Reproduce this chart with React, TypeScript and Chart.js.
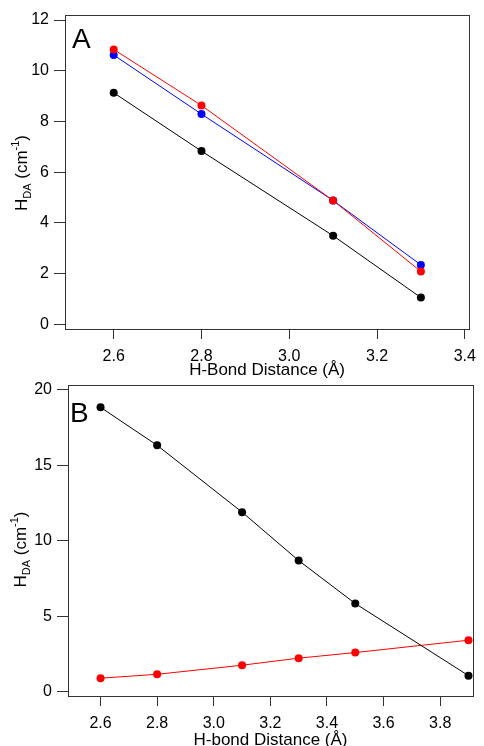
import React, { useEffect, useRef } from "react";
import { Chart, registerables } from "chart.js";

Chart.register(...registerables);

// Panel A data
const xA = [2.6, 2.8, 3.1, 3.3];
const blackA = [9.13, 6.83, 3.49, 1.05];
const blueA = [10.62, 8.29, 4.88, 2.34];
const redA = [10.84, 8.63, 4.88, 2.08];
const xTicksA = [2.6, 2.8, 3.0, 3.2, 3.4];
const yTicksA = [0, 2, 4, 6, 8, 10, 12];

// Panel B data
const xB = [2.6, 2.8, 3.1, 3.3, 3.5, 3.9];
const blackB = [18.85, 16.33, 11.9, 8.69, 5.84, 1.06];
const redB = [0.89, 1.15, 1.75, 2.22, 2.59, 3.41];
const xTicksB = [2.6, 2.8, 3.0, 3.2, 3.4, 3.6, 3.8];
const yTicksB = [0, 5, 10, 15, 20];

const FONT = '"Liberation Sans", Arial, Helvetica, sans-serif';
const AXIS = "#333";

function ds(label: string, xs: number[], ys: number[], color: string) {
  return {
    label,
    data: xs.map((x, i) => ({ x, y: ys[i] })),
    borderColor: color,
    backgroundColor: color,
    borderWidth: 1,
    pointRadius: 4,
    pointBorderWidth: 0,
    pointHoverRadius: 4,
    showLine: true,
    tension: 0,
  };
}

function framePlugin(panel: string, labelX: number, labelBaseline: number, titleShift: number, titleX: number) {
  return {
    id: "frame" + panel,
    beforeDatasetsDraw(chart: any) {
      const { ctx, chartArea } = chart;
      ctx.save();
      ctx.strokeStyle = AXIS;
      ctx.lineWidth = 1;
      ctx.strokeRect(
        Math.round(chartArea.left) + 0.5,
        Math.round(chartArea.top) + 0.5,
        Math.round(chartArea.right - chartArea.left),
        Math.round(chartArea.bottom - chartArea.top)
      );
      ctx.restore();
    },
    afterDraw(chart: any) {
      const { ctx, chartArea } = chart;
      ctx.save();
      // panel letter
      ctx.fillStyle = "#000";
      ctx.font = `28px ${FONT}`;
      ctx.textBaseline = "alphabetic";
      ctx.textAlign = "left";
      ctx.fillText(panel, labelX, labelBaseline);
      // y-axis title with subscript / superscript
      const parts = [
        { t: "H", s: 17, dy: 0 },
        { t: "DA", s: 11, dy: 4 },
        { t: " (cm", s: 17, dy: 0 },
        { t: "-1", s: 11, dy: -8 },
        { t: ")", s: 17, dy: 0 },
      ];
      let total = 0;
      const widths = parts.map((p) => {
        ctx.font = `${p.s}px ${FONT}`;
        const w = ctx.measureText(p.t).width;
        total += w;
        return w;
      });
      const cy = (chartArea.top + chartArea.bottom) / 2 + titleShift;
      ctx.translate(titleX, cy);
      ctx.rotate(-Math.PI / 2);
      let x = -total / 2;
      parts.forEach((p, i) => {
        ctx.font = `${p.s}px ${FONT}`;
        ctx.fillText(p.t, x, p.dy);
        x += widths[i];
      });
      ctx.restore();
    },
  };
}

function makeOptions(
  xMin: number,
  xMax: number,
  yMin: number,
  yMax: number,
  xTicks: number[],
  yTicks: number[],
  xTitle: string,
  yWidth: number,
  xHeight: number,
  padRight: number,
  titlePadBottom: number
) {
  const tickFont = { family: FONT, size: 16 };
  return {
    animation: false,
    responsive: false,
    layout: { padding: { left: 0, right: padRight, top: 15, bottom: 0 } },
    plugins: { legend: { display: false }, tooltip: { enabled: false } },
    scales: {
      x: {
        type: "linear",
        min: xMin,
        max: xMax,
        afterBuildTicks: (s: any) => {
          s.ticks = xTicks.map((v) => ({ value: v }));
        },
        afterFit: (s: any) => {
          s.height = xHeight;
        },
        ticks: {
          font: tickFont,
          color: "#000",
          padding: 8,
          maxRotation: 0,
          autoSkip: false,
          callback: (v: any) => Number(v).toFixed(1),
        },
        grid: { drawOnChartArea: false, drawTicks: true, tickLength: 10, color: AXIS, lineWidth: 1 },
        border: { display: false },
        title: {
          display: true,
          text: xTitle,
          color: "#000",
          font: { family: FONT, size: 17 },
          padding: { top: 0, bottom: titlePadBottom },
        },
      },
      y: {
        type: "linear",
        min: yMin,
        max: yMax,
        afterBuildTicks: (s: any) => {
          s.ticks = yTicks.map((v) => ({ value: v }));
        },
        afterFit: (s: any) => {
          s.width = yWidth;
        },
        ticks: {
          font: tickFont,
          color: "#000",
          padding: 5,
          callback: (v: any) => String(v),
        },
        grid: { drawOnChartArea: false, drawTicks: true, tickLength: 11, color: AXIS, lineWidth: 1 },
        border: { display: false },
        title: { display: false, text: "HDA (cm-1)" },
      },
    },
  };
}

export default function App() {
  const refA = useRef<HTMLCanvasElement>(null);
  const refB = useRef<HTMLCanvasElement>(null);

  useEffect(() => {
    const chartA = new Chart(refA.current as HTMLCanvasElement, {
      type: "scatter",
      data: {
        datasets: [
          ds("red", xA, redA, "#ff0000"),
          ds("blue", xA, blueA, "#0000ff"),
          ds("black", xA, blackA, "#000000"),
        ],
      },
      options: makeOptions(2.489, 3.41, -0.19, 12.2, xTicksA, yTicksA, "H-Bond Distance (Å)", 65, 51, 10, -1) as any,
      plugins: [framePlugin("A", 72, 48, 1, 27)],
    });
    const chartB = new Chart(refB.current as HTMLCanvasElement, {
      type: "scatter",
      data: {
        datasets: [ds("black", xB, blackB, "#000000"), ds("red", xB, redB, "#ff0000")],
      },
      options: makeOptions(2.485, 3.916, -0.29, 20.33, xTicksB, yTicksB, "H-bond Distance (Å)", 68, 50, 11, -5) as any,
      plugins: [framePlugin("B", 70, 52, 9, 26)],
    });
    return () => {
      chartA.destroy();
      chartB.destroy();
    };
  }, []);

  return (
    <div style={{ position: "absolute", left: 0, top: 0, width: 484, height: 746, overflow: "hidden", background: "#fff" }}>
      <div style={{ position: "absolute", left: 0, top: 0, width: 484, height: 380 }}>
        <canvas ref={refA} width={484} height={380} style={{ width: 484, height: 380, display: "block" }} />
      </div>
      <div style={{ position: "absolute", left: 0, top: 370, width: 484, height: 376 }}>
        <canvas ref={refB} width={484} height={376} style={{ width: 484, height: 376, display: "block" }} />
      </div>
    </div>
  );
}
